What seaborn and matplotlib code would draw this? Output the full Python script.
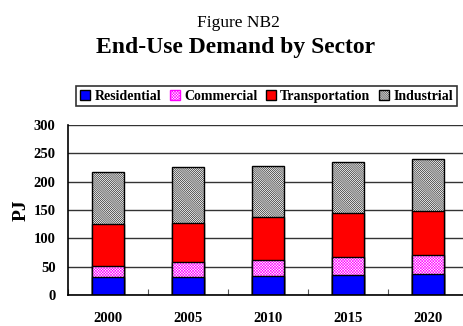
import matplotlib
matplotlib.use("Agg")
import matplotlib.pyplot as plt
import numpy as np
import pandas as pd
import seaborn as sns
from matplotlib.patches import Patch

# End-use demand (PJ) by sector
years = ["2000", "2005", "2010", "2015", "2020"]
residential = [33, 32, 34, 35, 37]
commercial = [18, 26, 28, 32, 34]
transportation = [74, 70, 75, 77, 77]
industrial = [92, 97, 91, 90, 92]
y_ticks = [0, 50, 100, 150, 200, 250, 300]

sns.set_theme(style="white")
plt.rcParams["font.family"] = ["Liberation Serif", "DejaVu Serif"]
plt.rcParams["hatch.linewidth"] = 0.4
for key in ["text.color", "axes.labelcolor", "xtick.color", "ytick.color"]:
    plt.rcParams[key] = "black"

IND_HATCH = "\\" * 16
COM_HATCH = "x" * 12

df = pd.DataFrame({
    "year": years,
    "res": residential,
    "com": commercial,
    "tra": transportation,
    "ind": industrial,
})
df["cum_com"] = df["res"] + df["com"]
df["cum_tra"] = df["cum_com"] + df["tra"]
df["cum_ind"] = df["cum_tra"] + df["ind"]

fig = plt.figure(figsize=(4.64, 3.26), dpi=100)
ax = fig.add_axes([68 / 464, 30.7 / 326, 400 / 464, 170.6 / 326])

bw = 0.4
# Stacked bars drawn as overlapping cumulative totals
sns.barplot(data=df, x="year", y="cum_ind", ax=ax, color="white", width=bw,
            edgecolor="black", linewidth=1, hatch=IND_HATCH, saturation=1)
sns.barplot(data=df, x="year", y="cum_tra", ax=ax, color="#ff0000", width=bw,
            edgecolor="black", linewidth=1, saturation=1)
sns.barplot(data=df, x="year", y="cum_com", ax=ax, color="white", width=bw,
            edgecolor="#ff00ff", linewidth=0, hatch=COM_HATCH, saturation=1)
sns.barplot(data=df, x="year", y="cum_com", ax=ax, fill=False, width=bw,
            edgecolor="black", linewidth=1)
sns.barplot(data=df, x="year", y="res", ax=ax, color="#0000ff", width=bw,
            edgecolor="black", linewidth=1, saturation=1)

ax.set_ylim(0, 300)
ax.set_xlim(-0.5, 4.5)
ax.set_yticks(y_ticks)
ax.set_yticklabels([str(t) for t in y_ticks], fontweight="bold", fontsize=10.5)
ax.set_xticks(range(len(years)))
ax.set_xticklabels(years, fontweight="bold", fontsize=10.5)
ax.set_xticks(np.arange(-0.5, 5.0, 1.0), minor=True)
ax.tick_params(axis="x", which="major", length=0, pad=12)
ax.tick_params(axis="x", which="minor", direction="in", length=4, width=0.8, color="#555555", bottom=True)
ax.tick_params(axis="y", which="major", length=0, pad=9)
ax.set_xlabel("")
ax.set_ylabel("PJ", fontweight="bold", fontsize=14)
ax.yaxis.set_label_coords(-0.095, 0.5)

ax.yaxis.grid(True, color="#333333", linewidth=1)
ax.set_axisbelow(True)
for s in ["top", "right"]:
    ax.spines[s].set_visible(False)
for s in ["left", "bottom"]:
    ax.spines[s].set_color("black")
    ax.spines[s].set_linewidth(1.2)

handles = [
    Patch(facecolor="#0000ff", edgecolor="black", label="Residential"),
    Patch(facecolor="white", edgecolor="#ff00ff", hatch=COM_HATCH, label="Commercial"),
    Patch(facecolor="#ff0000", edgecolor="black", label="Transportation"),
    Patch(facecolor="white", edgecolor="black", hatch=IND_HATCH, label="Industrial"),
]
leg = fig.legend(handles=handles, loc="center", bbox_to_anchor=(266.5 / 464, 1 - 96 / 326),
                 ncol=4, frameon=True, fancybox=False, edgecolor="black",
                 prop={"weight": "bold", "size": 10}, handlelength=0.75, handleheight=0.75,
                 handletextpad=0.3, columnspacing=0.6, borderpad=0.25, borderaxespad=0)
leg.get_frame().set_linewidth(1.2)

fig.text(238.5 / 464, 1 - 23 / 326, "Figure NB2", ha="center", va="center", fontsize=12.5)
fig.text(236 / 464, 1 - 47 / 326, "End-Use Demand by Sector", ha="center", va="center",
         fontsize=17, fontweight="bold")

fig.savefig("out.png", dpi=100)
